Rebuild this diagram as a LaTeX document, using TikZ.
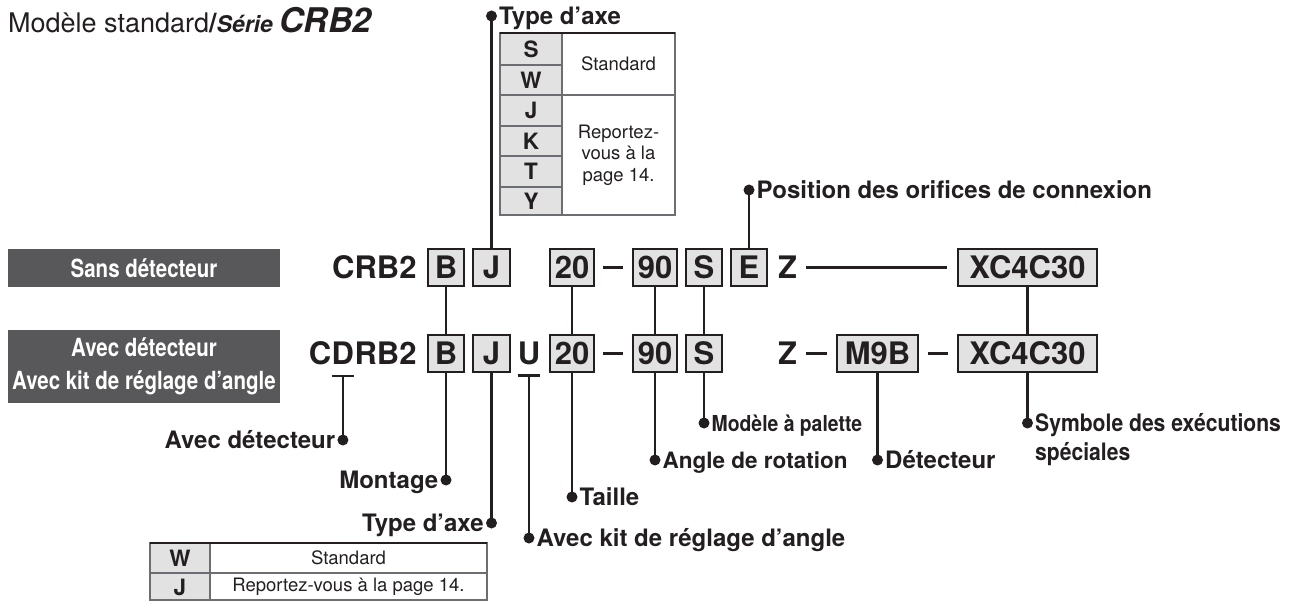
\documentclass[tikz,border=0pt]{standalone}
\usepackage{fontspec}
\setmainfont{TeX Gyre Heros}
\newfontfamily\condfont[FakeStretch=0.88]{TeX Gyre Heros}
\newfontfamily\barfont[FakeStretch=0.82]{TeX Gyre Heros}
\usetikzlibrary{calc}
\definecolor{ink}{HTML}{231F20}
\definecolor{boxgray}{HTML}{E2E2E3}
\definecolor{darkbar}{HTML}{58585A}
\definecolor{rulegray}{HTML}{6D6E71}
\begin{document}
\begin{tikzpicture}[x=1pt,y=-1pt,
  every node/.style={inner sep=0pt, text=ink},
  code/.style={draw=ink, line width=2.6pt, fill=boxgray, minimum height=37pt, font=\bfseries\fontsize{31}{34}\selectfont},
  codetxt/.style={font=\bfseries\fontsize{31}{34}\selectfont},
  lead/.style={draw=ink, line width=2.3pt},
  dashln/.style={draw=ink, line width=3.2pt},
  lbl/.style={font=\bfseries\fontsize{24}{27}\selectfont},
  clbl/.style={font=\condfont\bfseries\fontsize{22}{27}\selectfont},
  bar/.style={fill=darkbar, text=white, font=\barfont\bfseries\fontsize{25}{33}\selectfont, align=center, minimum width=272pt},
  tab/.style={draw=rulegray, line width=1.2pt},
  tabtop/.style={draw=ink, line width=2pt},
  tkey/.style={font=\bfseries\fontsize{22.5}{24}\selectfont},
  tval/.style={font=\fontsize{18.5}{21.5}\selectfont, align=center},
  bullet/.style={circle, fill=ink, draw=none, minimum size=11pt, inner sep=0pt},
  lw/.style={anchor=base west, xshift=7.5pt, yshift=-8.5pt},
  le/.style={anchor=base east, xshift=-7.5pt, yshift=-8.5pt},
]
\useasboundingbox (0,0) rectangle (1297,601);

% title
\node[anchor=base west] (title) at (8,33) {\fontsize{27}{30}\selectfont Modèle standard\textbf{/\textit{\fontsize{23}{26}\selectfont Série \fontsize{34}{36}\selectfont CRB2}}};

% grey bars
\node[bar, minimum height=38pt] (sans) at (144,268) {Sans détecteur};
\node[bar, minimum height=73pt] (avec) at (144,366.5) {Avec détecteur\\Avec kit de réglage d’angle};

% ---- row 1
\node[code, minimum width=36pt] (B1) at (446,267.5) {B};
\node[code, minimum width=37pt] (J1) at (491.5,267.5) {J};
\node[code, minimum width=44pt] (Ta) at (572,267.5) {20};
\node[code, minimum width=44pt] (Aa) at (655,267.5) {90};
\node[code, minimum width=36pt] (Sa) at (704,267.5) {S};
\node[code, minimum width=36pt] (Ea) at (749,267.5) {E};
\node[codetxt] (Za) at (787.5,267.5) {Z};
\node[code, minimum width=139pt] (XCa) at (1027.5,267.5) {XC4C30};
\node[codetxt, anchor=east] (crb) at ([xshift=-10pt]B1.west) {CRB2};
\draw[dashln] ([xshift=8pt]Ta.east) -- ([xshift=-9pt]Aa.west);
\draw[dashln] ([xshift=9pt]Za.east) -- ([xshift=-10pt]XCa.west);

% ---- row 2
\node[code, minimum width=36pt] (B2) at (446,353.5) {B};
\node[code, minimum width=37pt] (J2) at (491.5,353.5) {J};
\node[codetxt] (U) at (529,353.5) {U};
\node[code, minimum width=44pt] (Tb) at (572,353.5) {20};
\node[code, minimum width=44pt] (Ab) at (655,353.5) {90};
\node[code, minimum width=36pt] (Sb) at (704,353.5) {S};
\node[codetxt] (Zb) at (787.5,353.5) {Z};
\node[code, minimum width=81pt] (M9B) at (877.5,353.5) {M9B};
\node[code, minimum width=139pt] (XCb) at (1027.5,353.5) {XC4C30};
\node[codetxt, anchor=east] (rb2) at ([xshift=-10pt]B2.west) {RB2};
\node[codetxt, anchor=base east] (Dl) at (rb2.base west) {D};
\node[codetxt, anchor=base east] (Cl) at (Dl.base west) {C};
\draw[dashln] ([xshift=8pt]Tb.east) -- ([xshift=-9pt]Ab.west);
\draw[dashln] ([xshift=9pt]Zb.east) -- ([xshift=-9pt]M9B.west);
\draw[dashln] ([xshift=9pt]M9B.east) -- ([xshift=-9pt]XCb.west);

% underlines
\coordinate (Dul) at ([yshift=-11pt]Dl.base);
\coordinate (Uul) at ([yshift=-11pt]U.base);
\draw[lead] ([yshift=-11pt]Dl.base west) -- ([yshift=-11pt]Dl.base east);
\draw[lead] ([yshift=-11pt]U.base west) -- ([yshift=-11pt]U.base east);

% row connectors
\draw[lead] (B1.south) -- (B2.north);
\draw[lead] (Ta.south) -- (Tb.north);
\draw[lead] (Aa.south) -- (Ab.north);
\draw[lead] (Sa.south) -- (Sb.north);
\draw[lead] (XCa.south) -- (XCb.north);

% helper heights
\coordinate (y16) at (0,16);
\coordinate (y190) at (0,190);
\coordinate (y423) at (0,423);
\coordinate (y440) at (0,440);
\coordinate (y460) at (0,460);
\coordinate (y480) at (0,480);
\coordinate (y497) at (0,497);
\coordinate (y523) at (0,523);
\coordinate (y538) at (0,538);

% top leaders
\node[bullet] (dTop) at (J1.north |- y16) {};
\draw[lead] (J1.north) -- (dTop.center);
\node[lbl, lw] (lTop) at (dTop.center) {Type d’axe};

\node[bullet] (dPos) at (Ea.north |- y190) {};
\draw[lead] (Ea.north) -- (dPos.center);
\node[lbl, lw] (lPos) at (dPos.center) {Position des orifices de connexion};

% bottom leaders
\node[bullet] (dAD) at (Dul |- y440) {};
\draw[lead] (Dul) -- (dAD.center);
\node[lbl, le] (lAD) at (dAD.center) {Avec détecteur};

\node[bullet] (dMo) at (B2.south |- y480) {};
\draw[lead] (B2.south) -- (dMo.center);
\node[lbl, le] (lMo) at (dMo.center) {Montage};

\node[bullet] (dTy) at (J2.south |- y523) {};
\draw[lead] (J2.south) -- (dTy.center);
\node[lbl, le] (lTy) at (dTy.center) {Type d’axe};

\node[bullet] (dKit) at (Uul |- y538) {};
\draw[lead] (Uul) -- (dKit.center);
\node[lbl, lw] (lKit) at (dKit.center) {Avec kit de réglage d’angle};

\node[bullet] (dTa) at (Tb.south |- y497) {};
\draw[lead] (Tb.south) -- (dTa.center);
\node[lbl, lw] (lTa) at (dTa.center) {Taille};

\node[bullet] (dAn) at (Ab.south |- y460) {};
\draw[lead] (Ab.south) -- (dAn.center);
\node[lbl, lw, font=\bfseries\fontsize{22.5}{27}\selectfont] (lAn) at (dAn.center) {Angle de rotation};

\node[bullet] (dPa) at (Sb.south |- y423) {};
\draw[lead] (Sb.south) -- (dPa.center);
\node[clbl, lw, yshift=0.5pt] (lPa) at (dPa.center) {Modèle à palette};

\node[bullet] (dDe) at (M9B.south |- y460) {};
\draw[lead] (M9B.south) -- (dDe.center);
\node[lbl, lw] (lDe) at (dDe.center) {Détecteur};

\node[bullet] (dSy) at (XCb.south |- y423) {};
\draw[lead] (XCb.south) -- (dSy.center);
\node[lw, font=\condfont\bfseries\fontsize{24}{29}\selectfont] (lSy) at (dSy.center) {\begin{tabular}[t]{@{}l@{}}Symbole des exécutions\\spéciales\end{tabular}};

% top table
\fill[boxgray] (500,33) rectangle (562,215);
\draw[tab] (500,33) rectangle (675,215);
\draw[tab] (562,33) -- (562,215);
\draw[tab] (500,65) -- (562,65);
\draw[tab] (500,95) -- (675,95);
\draw[tab] (500,126) -- (562,126);
\draw[tab] (500,156) -- (562,156);
\draw[tab] (500,187) -- (562,187);
\draw[tabtop] (500,33) -- (675,33);
\node[tkey] (kS) at (531,49) {S};
\node[tkey] (kW) at (531,80) {W};
\node[tkey] (kJ) at (531,110.5) {J};
\node[tkey] (kK) at (531,141) {K};
\node[tkey] (kT) at (531,171.5) {T};
\node[tkey] (kY) at (531,201) {Y};
\node[tval] (vStd) at (618.5,64) {Standard};
\node[tval] (vRep) at (618.5,155) {Reportez-\\vous à la\\page 14.};

% bottom table
\fill[boxgray] (150,543) rectangle (210,600);
\draw[tab] (150,543) rectangle (487,600);
\draw[tab] (210,543) -- (210,600);
\draw[tab] (150,573) -- (487,573);
\draw[tabtop] (150,543) -- (487,543);
\node[tkey] (bW) at (180,558) {W};
\node[tval] (bStd) at (348.5,558) {Standard};
\node[tkey] (bJ) at (180,587) {J};
\node[tval] (bRep) at (348.5,587) {Reportez-vous à la page 14.};
\end{tikzpicture}
\end{document}
